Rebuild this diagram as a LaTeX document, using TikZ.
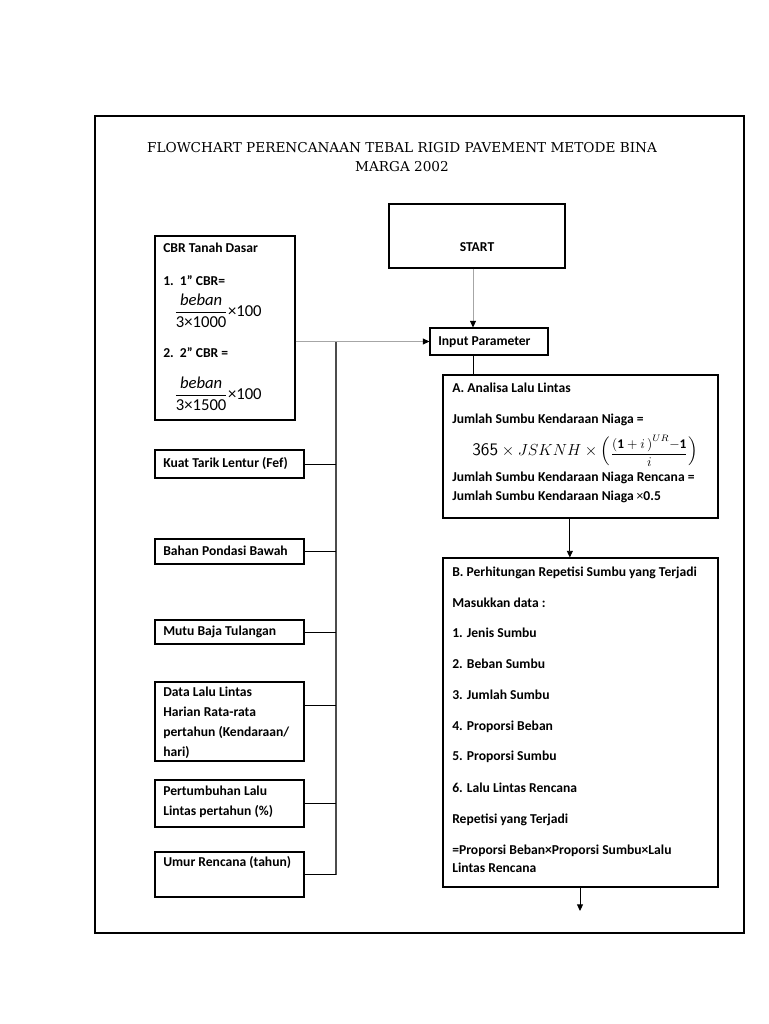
\documentclass[tikz,border=0pt]{standalone}
\usepackage{amsmath}
\usepackage{fontspec}
\setmainfont{Carlito}
\newfontfamily\titlefont{DejaVu Serif}
\usetikzlibrary{arrows.meta,fit,calc}
\begin{document}
\begin{tikzpicture}[x=0.75pt,y=-0.75pt,
  box/.style={draw=black, line width=0.8pt, inner sep=0pt, fit={#1}},
  txt/.style={anchor=base west, inner sep=0pt, font=\fontsize{10.2}{11.5}\selectfont\bfseries},
  mtxt/.style={anchor=west, inner sep=0pt, font=\fontsize{12.5}{14}\selectfont},
  link/.style={draw=black, line width=0.7pt},
  glink/.style={draw=gray!70, line width=0.6pt},
  bus/.style={draw=black!70, line width=1.4pt},
  tip/.style={-{Triangle[length=5pt,width=4.5pt,color=black]}}
]
\useasboundingbox (0,0) rectangle (768,1024);
% frame
\node[box={(95,116) (744,933)}] (frame) {};
% title
\node[inner sep=0pt, align=center, font=\titlefont\fontsize{10.2}{14.2}\selectfont] (title) at (402,157)
  {FLOWCHART PERENCANAAN TEBAL RIGID PAVEMENT METODE BINA\\MARGA 2002};

% right column
\node[box={(389,204) (565,268)}] (start) {};
\node[txt, anchor=base] (starttxt) at (477,251) {START};
\node[box={(430,328) (548,355)}] (inp) {};
\node[txt] (inptxt) at (438,345) {Input Parameter};

\node[box={(443,375) (718,518)}] (boxa) {};
\node[txt] (a1) at (452,392) {A. Analisa Lalu Lintas};
\node[txt] (a2) at (452,423) {Jumlah Sumbu Kendaraan Niaga =};
\node[inner sep=0pt, font=\fontsize{13.2}{15}\selectfont] (a3) at (585,451)
  {$\mathsf{365}\times \mathnormal{JSKNH}\times\Big(\vcenter{\hbox{\fontsize{10}{11}\selectfont$\dfrac{\mathbf{(1}+i\,\mathbf{)}^{UR}\mathbf{-1}}{i}$}}\Big)$};
\node[txt] (a4) at (452,481) {Jumlah Sumbu Kendaraan Niaga Rencana =};
\node[txt] (a5) at (452,500) {Jumlah Sumbu Kendaraan Niaga {\mdseries×}0.5};

\node[box={(443,558) (718,887)}] (boxb) {};
\node[txt] (b1) at (452,576) {B. Perhitungan Repetisi Sumbu yang Terjadi};
\node[txt] (b2) at (452,607) {Masukkan data :};
\node[txt] (b3) at (452,637) {1. Jenis Sumbu};
\node[txt] (b4) at (452,668) {2. Beban Sumbu};
\node[txt] (b5) at (452,699) {3. Jumlah Sumbu};
\node[txt] (b6) at (452,730) {4. Proporsi Beban};
\node[txt] (b7) at (452,760) {5. Proporsi Sumbu};
\node[txt] (b8) at (452,792) {6. Lalu Lintas Rencana};
\node[txt] (b9) at (452,823) {Repetisi yang Terjadi};
\node[txt] (b10) at (452,854) {=Proporsi Beban×Proporsi Sumbu×Lalu};
\node[txt] (b11) at (452,872) {Lintas Rencana};
\coordinate (bend) at (580,911);

% left column
\node[box={(155,236) (295,420)}] (cbr) {};
\node[txt] (c1) at (163,252) {CBR Tanah Dasar};
\node[txt] (c2) at (163,285) {1.\ \ 1'' CBR=};
\node[mtxt] (c3) at (174,311) {$\dfrac{\textit{beban}}{\text{3×1000}}\text{×100}$};
\node[txt] (c4) at (163,357) {2.\ \ 2'' CBR =};
\node[mtxt] (c5) at (174,394) {$\dfrac{\textit{beban}}{\text{3×1500}}\text{×100}$};

\node[box={(155,450) (304,478)}] (kuat) {};
\node[txt] (kuattxt) at (163,467) {Kuat Tarik Lentur (Fef)};
\node[box={(155,539) (304,564)}] (bahan) {};
\node[txt] (bahantxt) at (163,555) {Bahan Pondasi Bawah};
\node[box={(155,620) (304,644)}] (mutu) {};
\node[txt] (mututxt) at (163,635) {Mutu Baja Tulangan};
\node[box={(155,682) (304,761)}] (data) {};
\node[txt, align=left, anchor=north west, font=\fontsize{10.2}{14.8}\selectfont\bfseries] (datatxt) at (163,687)
  {Data Lalu Lintas\\Harian Rata-rata\\pertahun (Kendaraan/\\hari)};
\node[box={(155,780) (304,827)}] (tumbuh) {};
\node[txt, align=left, anchor=north west, font=\fontsize{10.2}{14.8}\selectfont\bfseries] (tumbuhtxt) at (163,786)
  {Pertumbuhan Lalu\\Lintas pertahun (\%)};
\node[box={(155,852) (304,897)}] (umur) {};
\node[txt] (umurtxt) at (163,866) {Umur Rencana (tahun)};

% connectors
\coordinate (bustop) at (336,341);
\draw[bus] (bustop) -- (bustop |- umur.east);
\draw[link] (kuat.east) -- (kuat.east -| bustop);
\draw[link] (bahan.east) -- (bahan.east -| bustop);
\draw[link] (mutu.east) -- (mutu.east -| bustop);
\draw[link] ([yshift=12pt]data.east) -- ([yshift=12pt]data.east -| bustop);
\draw[link] (tumbuh.east) -- (tumbuh.east -| bustop);
\draw[link] (umur.east) -- (umur.east -| bustop);
\draw[glink, tip] (cbr.east |- inp.west) -- (inp.west);
\draw[glink, tip] ([xshift=-3pt]start.south) -- ([xshift=-3pt]start.south |- inp.north);
\draw[link] ([xshift=-12pt]inp.south) -- ([xshift=-12pt]inp.south |- boxa.north);
\draw[link, tip] ([xshift=-8pt]boxa.south) -- ([xshift=-8pt]boxa.south |- boxb.north);
\draw[link, tip] (boxb.south -| bend) -- (bend);
\end{tikzpicture}
\end{document}
